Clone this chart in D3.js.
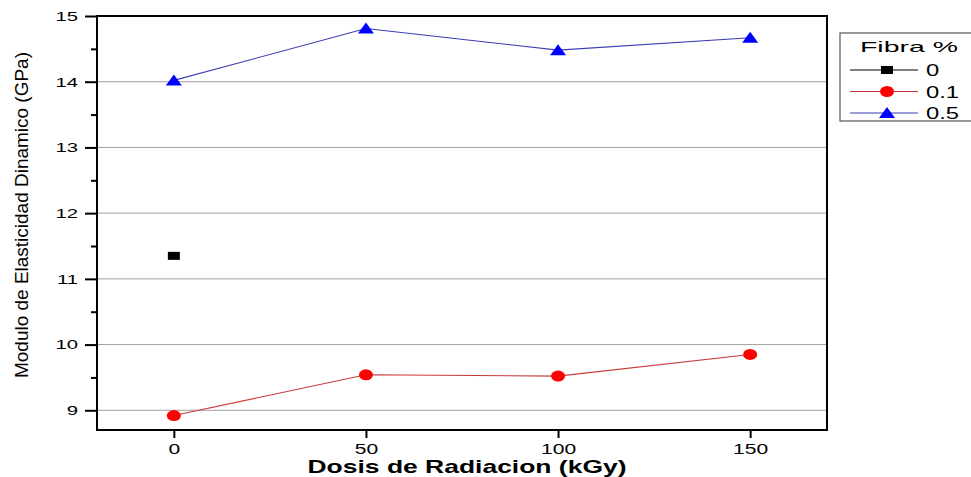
<!DOCTYPE html>
<html>
<head>
<meta charset="utf-8">
<style>
  body { margin: 0; background: #fff; font-family: Arial, "Liberation Sans", sans-serif; }
  svg { display: block; }
</style>
<script src="https://cdn.jsdelivr.net/npm/d3@7"></script>
</head>
<body>
<svg id="chart"></svg>
<script>
// data
let doses = [0, 50, 100, 150]
let fibra0 = [11.35]
let fibra01 = [8.92, 9.54, 9.52, 9.85]
let fibra05 = [14.02, 14.81, 14.48, 14.67]
let yTicks = [9, 10, 11, 12, 13, 14, 15]
let yMinor = [9.5, 10.5, 11.5, 12.5, 13.5, 14.5]
let seriesNames = ["0", "0.1", "0.5"]

let width = 971, height = 477
let margin = { top: 16, right: 144, bottom: 47, left: 97 }
let svg = d3.select("#chart").attr("width", width).attr("height", height)

let x = d3.scaleLinear().domain([-20, 170]).range([margin.left, width - margin.right])
let y = d3.scaleLinear().domain([8.7, 15]).range([height - margin.bottom, margin.top])

// the original picture is stretched sideways, so text is widened too
function widen(sel, k) {
  sel.each(function () {
    let w = this.getComputedTextLength()
    d3.select(this).attr("textLength", w * k).attr("lengthAdjust", "spacingAndGlyphs")
  })
}

// gridlines
svg.append("g").selectAll("line")
  .data(yTicks.filter(d => d < 15))
  .enter().append("line")
  .attr("x1", x(-20)).attr("x2", x(170))
  .attr("y1", d => y(d)).attr("y2", d => y(d))
  .attr("stroke", "#a0a0a0").attr("stroke-width", 1)

// axes
let axisY = d3.axisLeft(y).tickValues(yTicks).tickSize(12).tickPadding(7).tickFormat(d3.format("d"))
let gy = svg.append("g").attr("transform", `translate(${x(-20)},0)`).call(axisY)
let axisYMinor = d3.axisLeft(y).tickValues(yMinor).tickSize(6).tickFormat("")
let gym = svg.append("g").attr("transform", `translate(${x(-20)},0)`).call(axisYMinor)

let axisX = d3.axisBottom(x).tickValues(doses).tickSize(8).tickPadding(6)
let gx = svg.append("g").attr("transform", `translate(0,${y(8.7)})`).call(axisX)

for (let g of [gy, gym, gx]) {
  g.selectAll(".tick line").attr("stroke", "#000").attr("stroke-width", 2)
  g.selectAll("text").attr("font-family", "Arial, 'Liberation Sans', sans-serif").attr("fill", "#000")
  g.select(".domain").remove()
}
gy.selectAll("text").attr("font-size", 13.5)
gx.selectAll("text").attr("font-size", 14.5)
widen(gy.selectAll("text"), 1.5)
widen(gx.selectAll("text"), 1.45)

// frame
svg.append("rect")
  .attr("x", x(-20)).attr("y", y(15))
  .attr("width", x(170) - x(-20)).attr("height", y(8.7) - y(15))
  .attr("fill", "none").attr("stroke", "#000").attr("stroke-width", 2)

// series
let line = d3.line().x(d => x(d[0])).y(d => y(d[1]))
let redPts = doses.map((d, i) => [d, fibra01[i]])
let bluePts = doses.map((d, i) => [d, fibra05[i]])
let blackPts = fibra0.map((v, i) => [doses[i], v])

svg.append("path").datum(redPts).attr("d", line)
  .attr("fill", "none").attr("stroke", "#c83838").attr("stroke-width", 1.1)
svg.append("path").datum(bluePts).attr("d", line)
  .attr("fill", "none").attr("stroke", "#3c3cb4").attr("stroke-width", 1.1)

function drawMarker(g, type, color) {
  if (type == "square") {
    g.append("rect").attr("x", -6).attr("y", -4).attr("width", 12).attr("height", 8).attr("fill", color)
  } else if (type == "circle") {
    g.append("ellipse").attr("rx", 7).attr("ry", 5.5).attr("fill", color)
  } else {
    g.append("path").attr("d", "M0,-6 L8,5 L-8,5 Z").attr("fill", color)
  }
}

svg.append("g").selectAll("g").data(blackPts).enter().append("g")
  .attr("transform", d => `translate(${x(d[0])},${y(d[1])})`)
  .each(function () { drawMarker(d3.select(this), "square", "#000") })
svg.append("g").selectAll("g").data(redPts).enter().append("g")
  .attr("transform", d => `translate(${x(d[0])},${y(d[1])})`)
  .each(function () { drawMarker(d3.select(this), "circle", "#ff0000") })
svg.append("g").selectAll("g").data(bluePts).enter().append("g")
  .attr("transform", d => `translate(${x(d[0])},${y(d[1])})`)
  .each(function () { drawMarker(d3.select(this), "triangle", "#0000ff") })

// axis titles
svg.append("text")
  .attr("x", 467).attr("y", 473)
  .attr("text-anchor", "middle")
  .attr("font-size", 18.5).attr("font-weight", "bold")
  .attr("textLength", 319).attr("lengthAdjust", "spacingAndGlyphs")
  .text("Dosis de Radiacion (kGy)")

svg.append("text")
  .attr("transform", `translate(28,${215}) rotate(-90)`)
  .attr("text-anchor", "middle")
  .attr("font-family", "'Liberation Sans Narrow', 'Arial Narrow', Arial, sans-serif")
  .attr("font-size", 18)
  .attr("textLength", 326).attr("lengthAdjust", "spacingAndGlyphs")
  .text("Modulo de Elasticidad Dinamico (GPa)")

// legend
let legend = svg.append("g")
legend.append("rect")
  .attr("x", 840).attr("y", 33).attr("width", 140).attr("height", 88)
  .attr("fill", "#fff").attr("stroke", "#555").attr("stroke-width", 1.2)
legend.append("text").attr("x", 860).attr("y", 52).attr("font-size", 15)
  .attr("textLength", 98).attr("lengthAdjust", "spacingAndGlyphs")
  .text("Fibra %")

let legendColors = ["#000", "#c83838", "#3c3cb4"]
let markerColors = ["#000", "#ff0000", "#0000ff"]
let markerTypes = ["square", "circle", "triangle"]
seriesNames.forEach((name, i) => {
  let ly = 70 + i * 21.5
  legend.append("line").attr("x1", 850).attr("x2", 918).attr("y1", ly).attr("y2", ly)
    .attr("stroke", legendColors[i]).attr("stroke-width", 1.1)
  let g = legend.append("g").attr("transform", `translate(887,${ly})`)
  drawMarker(g, markerTypes[i], markerColors[i])
  let t = legend.append("text").attr("x", 926).attr("y", ly + 6).attr("font-size", 17).text(name)
  widen(t, 1.4)
})
</script>
</body>
</html>
